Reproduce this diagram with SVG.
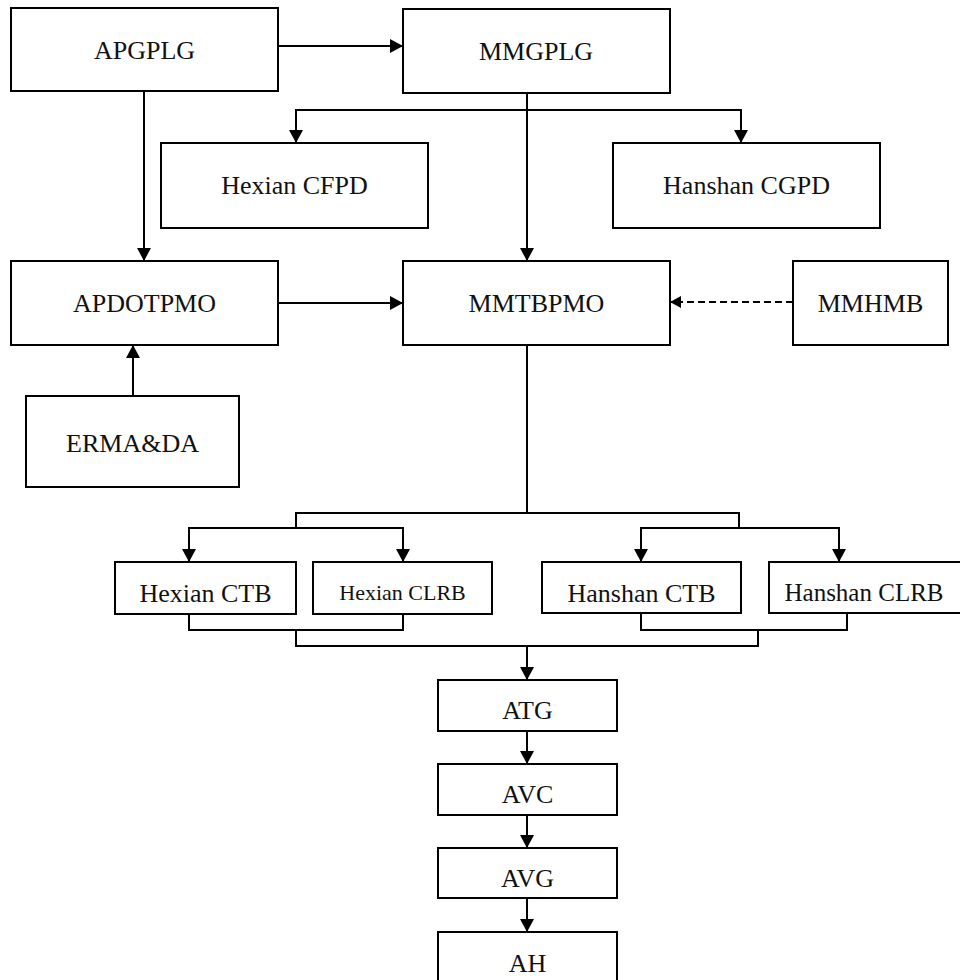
<svg xmlns="http://www.w3.org/2000/svg" width="960" height="980" viewBox="0 0 960 980">
<style>
.box{fill:#fff;stroke:#000;stroke-width:2}
.t{font-family:"Liberation Serif","Times New Roman",serif;font-size:26px;fill:#111;text-anchor:middle}
.c{fill:none;stroke:#000;stroke-width:2}
.d{fill:none;stroke:#000;stroke-width:2;stroke-dasharray:7 4}
</style>
<defs>
<marker id="ah" markerUnits="userSpaceOnUse" markerWidth="13" markerHeight="14" refX="13" refY="7" orient="auto"><path d="M0,0 L13,7 L0,14 z" fill="#000"/></marker>
<marker id="ahs" markerUnits="userSpaceOnUse" markerWidth="11" markerHeight="12" refX="11" refY="6" orient="auto"><path d="M0,0 L11,6 L0,12 z" fill="#000"/></marker>
</defs>
<rect width="960" height="980" fill="#fff"/>
<g id="connectors">
<path class="c" d="M278,46 H403" marker-end="url(#ah)"/>
<path class="c" d="M144,91 V261" marker-end="url(#ah)"/>
<path class="c" d="M527,93 V261" marker-end="url(#ah)"/>
<path class="c" d="M527,110 H296 V143" marker-end="url(#ah)"/>
<path class="c" d="M527,110 H741 V143" marker-end="url(#ah)"/>
<path class="c" d="M278,303 H403" marker-end="url(#ah)"/>
<path class="c" d="M133,396 V345" marker-end="url(#ah)"/>
<path class="d" d="M793,302 H670" marker-end="url(#ahs)"/>
<path class="c" d="M527,345 V513"/>
<path class="c" d="M296,528 V513 H739 V528"/>
<path class="c" d="M296,528 H189 V562" marker-end="url(#ah)"/>
<path class="c" d="M296,528 H403 V562" marker-end="url(#ah)"/>
<path class="c" d="M739,528 H641 V562" marker-end="url(#ah)"/>
<path class="c" d="M739,528 H839 V562" marker-end="url(#ah)"/>
<path class="c" d="M189,614 V630 H403 V614"/>
<path class="c" d="M641,613 V630 H847 V613"/>
<path class="c" d="M296,630 V646 H758 V630"/>
<path class="c" d="M527,646 V680" marker-end="url(#ah)"/>
<path class="c" d="M527,731 V764" marker-end="url(#ah)"/>
<path class="c" d="M527,815 V848" marker-end="url(#ah)"/>
<path class="c" d="M527,898 V932" marker-end="url(#ah)"/>
</g>
<g id="APGPLG"><rect class="box" x="11" y="8" width="267" height="83"/><text class="t" x="144.5" y="59">APGPLG</text></g>
<g id="MMGPLG"><rect class="box" x="403" y="9" width="267" height="84"/><text class="t" x="536" y="60">MMGPLG</text></g>
<g id="HexianCFPD"><rect class="box" x="161" y="143" width="267" height="85"/><text class="t" x="294.5" y="194">Hexian CFPD</text></g>
<g id="HanshanCGPD"><rect class="box" x="613" y="143" width="267" height="85"/><text class="t" x="746.5" y="194">Hanshan CGPD</text></g>
<g id="APDOTPMO"><rect class="box" x="11" y="261" width="267" height="84"/><text class="t" x="144.5" y="312">APDOTPMO</text></g>
<g id="MMTBPMO"><rect class="box" x="403" y="261" width="267" height="84"/><text class="t" x="536.5" y="312">MMTBPMO</text></g>
<g id="MMHMB"><rect class="box" x="793" y="261" width="155" height="84"/><text class="t" x="870.5" y="312">MMHMB</text></g>
<g id="ERMADA"><rect class="box" x="26" y="396" width="213" height="91"/><text class="t" x="132.5" y="452">ERMA&amp;DA</text></g>
<g id="HexianCTB"><rect class="box" x="115" y="562" width="181" height="52"/><text class="t" x="205.5" y="602">Hexian CTB</text></g>
<g id="HexianCLRB"><rect class="box" x="313" y="562" width="179" height="52"/><text class="t" x="402.5" y="600" style="font-size:22px">Hexian CLRB</text></g>
<g id="HanshanCTB"><rect class="box" x="542" y="562" width="199" height="51"/><text class="t" x="641.5" y="602">Hanshan CTB</text></g>
<g id="HanshanCLRB"><rect class="box" x="769" y="562" width="195" height="51"/><text class="t" x="864" y="601" style="font-size:25px">Hanshan CLRB</text></g>
<g id="ATG"><rect class="box" x="438" y="680" width="179" height="51"/><text class="t" x="527.5" y="719">ATG</text></g>
<g id="AVC"><rect class="box" x="438" y="764" width="179" height="51"/><text class="t" x="527.5" y="803">AVC</text></g>
<g id="AVG"><rect class="box" x="438" y="848" width="179" height="50"/><text class="t" x="527.5" y="887">AVG</text></g>
<g id="AH"><rect class="box" x="438" y="932" width="179" height="60"/><text class="t" x="527.5" y="972">AH</text></g>
</svg>
